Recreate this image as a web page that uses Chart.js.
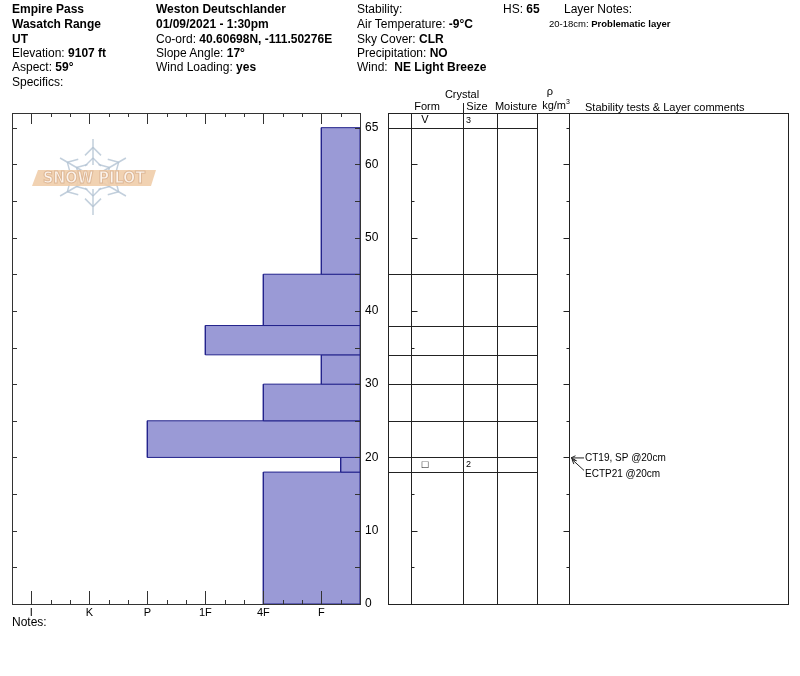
<!DOCTYPE html>
<html><head><meta charset="utf-8">
<script src="https://cdn.jsdelivr.net/npm/chart.js@4/dist/chart.umd.min.js"></script>
<style>
body{margin:0;background:#fff;}
#wrap{position:relative;width:800px;height:676px;font-family:"Liberation Sans",Arial,sans-serif;color:#000;overflow:hidden;}
canvas{position:absolute;left:0;top:0;}
.t{position:absolute;font-size:12px;line-height:14px;white-space:nowrap;}
.s{position:absolute;font-size:11px;line-height:13px;white-space:nowrap;transform:translateX(-50%);}
.n{position:absolute;font-size:9.5px;line-height:12px;white-space:nowrap;}
</style></head><body>
<div id="wrap">
<canvas id="c" width="800" height="676"></canvas>

<div class="t" style="left:12px;top:2px"><b>Empire Pass</b></div>
<div class="t" style="left:12px;top:17px"><b>Wasatch Range</b></div>
<div class="t" style="left:12px;top:32px"><b>UT</b></div>
<div class="t" style="left:12px;top:46px">Elevation: <b>9107 ft</b></div>
<div class="t" style="left:12px;top:60px">Aspect: <b>59°</b></div>
<div class="t" style="left:12px;top:75px">Specifics:</div>

<div class="t" style="left:156px;top:2px"><b>Weston Deutschlander</b></div>
<div class="t" style="left:156px;top:17px"><b>01/09/2021 - 1:30pm</b></div>
<div class="t" style="left:156px;top:32px">Co-ord: <b>40.60698N, -111.50276E</b></div>
<div class="t" style="left:156px;top:46px">Slope Angle: <b>17°</b></div>
<div class="t" style="left:156px;top:60px">Wind Loading: <b>yes</b></div>

<div class="t" style="left:357px;top:2px">Stability:</div>
<div class="t" style="left:357px;top:17px">Air Temperature: <b>-9°C</b></div>
<div class="t" style="left:357px;top:32px">Sky Cover: <b>CLR</b></div>
<div class="t" style="left:357px;top:46px">Precipitation: <b>NO</b></div>
<div class="t" style="left:357px;top:60px">Wind:&nbsp; <b>NE Light Breeze</b></div>

<div class="t" style="left:503px;top:2px">HS: <b>65</b></div>
<div class="t" style="left:564px;top:2px">Layer Notes:</div>
<div class="n" style="left:549px;top:18px">20-18cm: <b>Problematic layer</b></div>

<div class="s" style="left:462px;top:88px">Crystal</div>
<div class="s" style="left:427px;top:100px">Form</div>
<div class="s" style="left:477px;top:100px">Size</div>
<div class="s" style="left:516px;top:100px">Moisture</div>
<div class="s" style="left:550px;top:85px">ρ</div>
<div class="s" style="left:556px;top:95px">kg/m<sup style="font-size:7px">3</sup></div>
<div class="t" style="left:585px;top:100px;font-size:11px">Stability tests &amp; Layer comments</div>

<div class="t" style="left:12px;top:615px">Notes:</div>
</div>
<script>
const FONT = '"Liberation Sans", Arial, sans-serif';

// ---- data ----
const snowHeight = 65;
const layerTop = [65, 45, 38, 34, 30, 25, 20, 18];
const layerBottom = [45, 38, 34, 30, 25, 20, 18, 0];
const layerHardness = ['F', '4F', '1F', 'F', '4F', 'P', 'F-', '4F'];
const hardnessScale = ['F', '4F', '1F', 'P', 'K', 'I'];
const crystalRowDepths = [66, 19];
const crystalForms = ['V', '□'];
const crystalSizes = ['3', '2'];
const testLabels = ['CT19, SP @20cm', 'ECTP21 @20cm'];
const testDepths = [20, 20];

function hardnessValue(code) {
  const base = code.replace(/[+-]$/, '');
  let v = hardnessScale.indexOf(base) * 3 + 2;
  if (code.endsWith('-')) v -= 1;
  if (code.endsWith('+')) v += 1;
  return v;
}

const datasets = layerTop.map((t, i) => {
  const h = hardnessValue(layerHardness[i]);
  const b = layerBottom[i];
  return {
    data: [{x: 0, y: t}, {x: h, y: t}, {x: h, y: b}, {x: 0, y: b}, {x: 0, y: t}],
    showLine: true, fill: 'shape', tension: 0,
    backgroundColor: '#9a9ad6', borderColor: '#23238c', borderWidth: 1,
    pointRadius: 0, pointHoverRadius: 0
  };
});

function drawLogo(ctx) {
  const cx = 93, cy = 177, r = 38;
  ctx.save();
  ctx.globalAlpha = 0.8;
  ctx.strokeStyle = '#b3c3d3';
  ctx.lineWidth = 1.5;
  for (let k = 0; k < 6; k++) {
    const a = -Math.PI / 2 + k * Math.PI / 3;
    const dx = Math.cos(a), dy = Math.sin(a);
    const px = -dy, py = dx;
    ctx.beginPath();
    ctx.moveTo(cx + dx * 12, cy + dy * 12);
    ctx.lineTo(cx + dx * r, cy + dy * r);
    ctx.stroke();
    for (const f of [0.5, 0.78]) {
      const bx = cx + dx * r * f, by = cy + dy * r * f;
      for (const s of [-1, 1]) {
        ctx.beginPath();
        ctx.moveTo(bx, by);
        ctx.lineTo(bx - dx * 8 + px * s * 8, by - dy * 8 + py * s * 8);
        ctx.stroke();
      }
    }
  }
  ctx.globalAlpha = 1;
  ctx.fillStyle = 'rgba(240,205,170,0.9)';
  ctx.beginPath();
  ctx.moveTo(38, 170); ctx.lineTo(156, 170); ctx.lineTo(151, 186); ctx.lineTo(32, 186);
  ctx.closePath(); ctx.fill();
  ctx.font = 'bold 16px "DejaVu Sans Condensed", ' + FONT;
  ctx.textAlign = 'center'; ctx.textBaseline = 'middle';
  ctx.fillStyle = '#fbf3ec';
  ctx.strokeStyle = 'rgba(220,180,145,0.9)';
  ctx.lineWidth = 1;
  ctx.fillText('SNOW PILOT', 94, 178.5);
  ctx.strokeText('SNOW PILOT', 94, 178.5);
  ctx.restore();
}

function arrowHead(ctx, x1, y1, x2, y2) {
  const a = Math.atan2(y2 - y1, x2 - x1);
  ctx.beginPath();
  ctx.moveTo(x2, y2);
  ctx.lineTo(x2 - 5 * Math.cos(a - 0.45), y2 - 5 * Math.sin(a - 0.45));
  ctx.moveTo(x2, y2);
  ctx.lineTo(x2 - 5 * Math.cos(a + 0.45), y2 - 5 * Math.sin(a + 0.45));
  ctx.stroke();
}

const profilePlugin = {
  id: 'profile',
  beforeDatasetsDraw(chart) { drawLogo(chart.ctx); },
  afterDatasetsDraw(chart) {
    const {ctx, chartArea: a, scales: {x, y}} = chart;
    ctx.save();
    ctx.strokeStyle = '#333';
    ctx.lineWidth = 1;
    ctx.strokeRect(a.left + 0.5, a.top + 0.5, a.right - a.left, a.bottom - a.top);
    x.ticks.forEach(t => {
      const px = Math.round(x.getPixelForValue(t.value)) + 0.5;
      const major = (t.value - 2) % 3 === 0 && t.value >= 2 && t.value <= 17;
      const lb = major ? 13 : 4, lt = major ? 11 : 4;
      ctx.beginPath();
      ctx.moveTo(px, a.bottom); ctx.lineTo(px, a.bottom - lb);
      ctx.moveTo(px, a.top); ctx.lineTo(px, a.top + lt);
      ctx.stroke();
    });
    y.ticks.forEach(t => {
      const py = Math.round(y.getPixelForValue(t.value)) + 0.5;
      ctx.beginPath();
      ctx.moveTo(a.left, py); ctx.lineTo(a.left + 5, py);
      ctx.moveTo(a.right, py); ctx.lineTo(a.right - 5, py);
      ctx.stroke();
    });
    ctx.restore();
  },
  afterDraw(chart) {
    const {ctx, chartArea: a, scales: {y}} = chart;
    const L = 388.5, R = 788.5, cols = [411.5, 463.5, 497.5, 537.5, 569.5];
    const top = a.top + 0.5, bot = a.bottom + 0.5;
    const ys = d => Math.round(y.getPixelForValue(d)) + 0.5;
    ctx.save();
    ctx.strokeStyle = '#222';
    ctx.lineWidth = 1;
    ctx.strokeRect(L, top, R - L, bot - top);
    cols.forEach(cx => { ctx.beginPath(); ctx.moveTo(cx, top); ctx.lineTo(cx, bot); ctx.stroke(); });
    ctx.beginPath(); ctx.moveTo(463.5, 103); ctx.lineTo(463.5, top); ctx.stroke();
    layerTop.forEach(d => {
      const py = ys(d);
      ctx.beginPath(); ctx.moveTo(L, py); ctx.lineTo(cols[3], py); ctx.stroke();
    });
    y.ticks.forEach(t => {
      const py = ys(t.value);
      const len = t.value % 10 === 0 ? 6 : 3;
      ctx.beginPath();
      ctx.moveTo(cols[0], py); ctx.lineTo(cols[0] + len, py);
      ctx.moveTo(cols[4], py); ctx.lineTo(cols[4] - len, py);
      ctx.stroke();
    });
    ctx.fillStyle = '#000';
    ctx.textBaseline = 'middle';
    crystalRowDepths.forEach((d, i) => {
      const py = y.getPixelForValue(d);
      ctx.textAlign = 'center';
      ctx.font = '11px ' + FONT;
      ctx.fillText(crystalForms[i], 425, py);
      ctx.textAlign = 'left';
      ctx.font = '9px ' + FONT;
      ctx.fillText(crystalSizes[i], 466, py);
    });
    ctx.font = '10px ' + FONT;
    ctx.textAlign = 'left';
    testLabels.forEach((lab, i) => {
      const py = y.getPixelForValue(testDepths[i]);
      const ty = py + 1 + i * 16;
      ctx.fillText(lab, 585, ty);
      ctx.beginPath();
      if (i === 0) {
        ctx.moveTo(584, py + 0.5); ctx.lineTo(571, py + 0.5); ctx.stroke();
        arrowHead(ctx, 584, py + 0.5, 571, py + 0.5);
      } else {
        ctx.moveTo(584, ty - 4); ctx.lineTo(572, py + 2); ctx.stroke();
        arrowHead(ctx, 584, ty - 4, 572, py + 2);
      }
    });
    ctx.restore();
  }
};

new Chart(document.getElementById('c'), {
  type: 'scatter',
  data: {datasets},
  plugins: [profilePlugin],
  options: {
    responsive: false,
    animation: false,
    events: [],
    layout: {padding: {left: 12, top: 113, right: 0, bottom: 0}},
    plugins: {legend: {display: false}, tooltip: {enabled: false}},
    scales: {
      x: {
        type: 'linear', reverse: true, min: 0, max: 18,
        afterFit: s => { s.height = 72; },
        grid: {display: false, drawTicks: false}, border: {display: false},
        ticks: {
          stepSize: 1, autoSkip: false, maxRotation: 0, padding: 2, color: '#000',
          font: {size: 11, family: FONT},
          callback: v => {
            const k = (v - 2) / 3;
            return Number.isInteger(k) && k >= 0 && k < hardnessScale.length ? hardnessScale[k] : '';
          }
        }
      },
      y: {
        type: 'linear', position: 'right', min: 0, max: 67,
        afterFit: s => { s.width = 440; },
        grid: {display: false, drawTicks: false}, border: {display: false},
        ticks: {
          stepSize: 5, includeBounds: false, autoSkip: false, padding: 5, color: '#000',
          font: {size: 12, family: FONT},
          callback: v => (v % 10 === 0 || v === snowHeight) ? String(v) : ''
        }
      }
    }
  }
});
</script>
</body></html>
